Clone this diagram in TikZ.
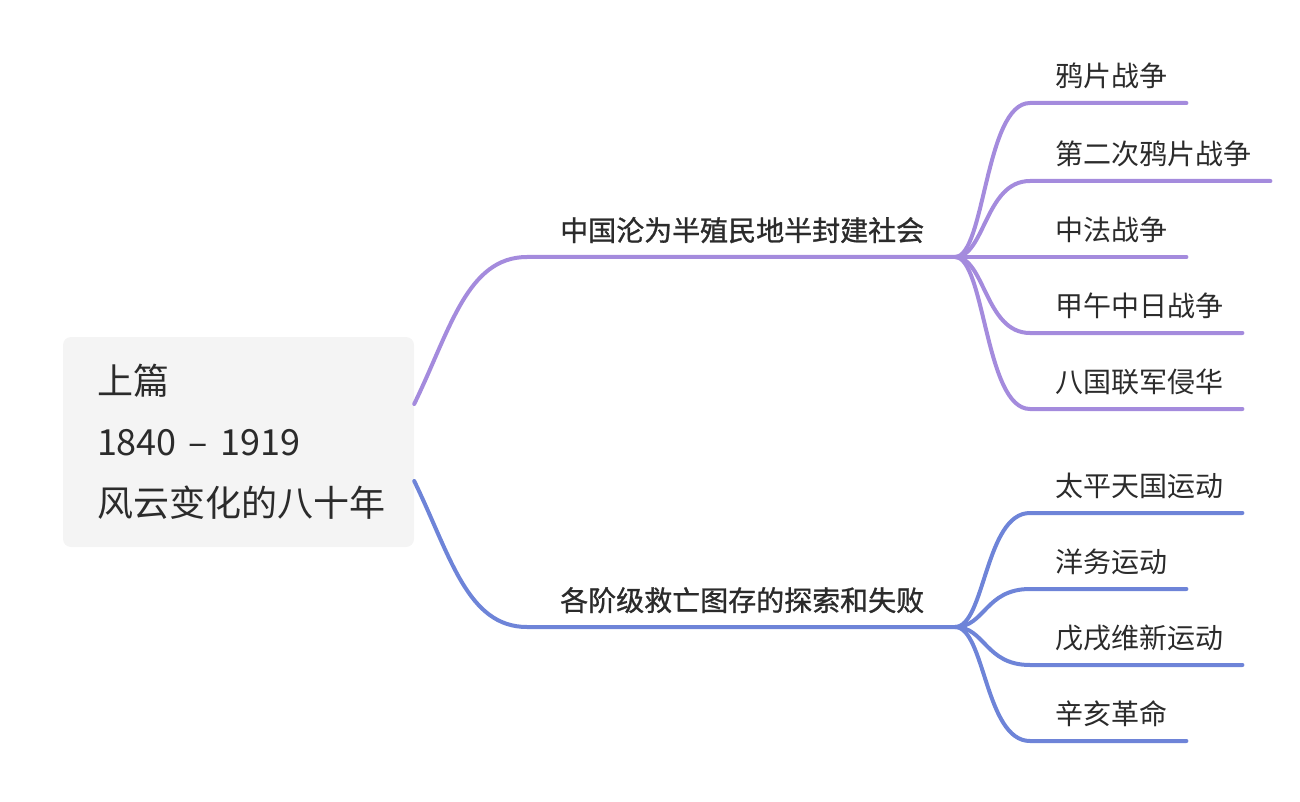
\documentclass[tikz,border=0pt]{standalone}
\usepackage{fontspec}
\setmainfont{Noto Sans CJK SC}
\newfontfamily\branchfont[FakeBold=1]{Noto Sans CJK SC}
\usetikzlibrary{positioning}
\definecolor{wars}{HTML}{A48BDD}
\definecolor{moves}{HTML}{6E84D8}
\definecolor{ink}{HTML}{2B2B2B}
\definecolor{rootfill}{HTML}{F4F4F4}

\begin{document}
\begin{tikzpicture}[x=1pt,y=-1pt,
  rootbox/.style={fill=rootfill,rounded corners=8pt,minimum width=351pt,minimum height=210pt,
    inner xsep=34pt,text width=283pt,align=left,text=ink,font=\fontsize{36}{61}\selectfont},
  topic/.style={anchor=south west,inner sep=0pt,text depth=16pt,text=ink,
    font=\branchfont\fontsize{28}{34}\selectfont},
  leaf/.style={anchor=south west,inner sep=0pt,text depth=16pt,text=ink,
    font=\fontsize{28}{34}\selectfont},
  twig/.style={line width=4pt,line cap=round}]
  \useasboundingbox (0,0) rectangle (1300,802);

  % Root
  \node[rootbox] (root) at (238.5,442) {上篇\\1840 – 1919\\风云变化的八十年};

  % Main topics
  \node[topic] (b1) at (560,257) {中国沦为半殖民地半封建社会};
  \node[topic] (b2) at (560,627) {各阶级救亡图存的探索和失败};
  \coordinate (h1) at (955,257);
  \coordinate (h2) at (955,627);
  \draw[twig,wars] ([yshift=38pt]root.east) .. controls +(36,-74) and +(-60,0) .. ([xshift=-33pt]b1.south west) -- (h1);
  \draw[twig,moves] ([yshift=-39pt]root.east) .. controls +(36,74) and +(-60,0) .. ([xshift=-33pt]b2.south west) -- (h2);

  % Wars
  \node[leaf] (w1) at (1055,103) {鸦片战争};
  \node[leaf] (w2) at (1055,181) {第二次鸦片战争};
  \node[leaf] (w3) at (1055,257) {中法战争};
  \node[leaf] (w4) at (1055,333) {甲午中日战争};
  \node[leaf] (w5) at (1055,409) {八国联军侵华};
  \draw[twig,wars] (h1) .. controls +(30,0) and +(-45,0) .. ([xshift=-25pt]w1.south west) -- ([xshift=19pt]w1.south east);
  \draw[twig,wars] (h1) .. controls +(30,0) and +(-45,0) .. ([xshift=-25pt]w2.south west) -- ([xshift=19pt]w2.south east);
  \draw[twig,wars] (h1) -- ([xshift=19pt]w3.south east);
  \draw[twig,wars] (h1) .. controls +(30,0) and +(-45,0) .. ([xshift=-25pt]w4.south west) -- ([xshift=19pt]w4.south east);
  \draw[twig,wars] (h1) .. controls +(30,0) and +(-45,0) .. ([xshift=-25pt]w5.south west) -- ([xshift=19pt]w5.south east);

  % Movements
  \node[leaf] (m1) at (1055,513) {太平天国运动};
  \node[leaf] (m2) at (1055,589) {洋务运动};
  \node[leaf] (m3) at (1055,665) {戊戌维新运动};
  \node[leaf] (m4) at (1055,741) {辛亥革命};
  \draw[twig,moves] (h2) .. controls +(30,0) and +(-45,0) .. ([xshift=-25pt]m1.south west) -- ([xshift=19pt]m1.south east);
  \draw[twig,moves] (h2) .. controls +(30,0) and +(-45,0) .. ([xshift=-25pt]m2.south west) -- ([xshift=19pt]m2.south east);
  \draw[twig,moves] (h2) .. controls +(30,0) and +(-45,0) .. ([xshift=-25pt]m3.south west) -- ([xshift=19pt]m3.south east);
  \draw[twig,moves] (h2) .. controls +(30,0) and +(-45,0) .. ([xshift=-25pt]m4.south west) -- ([xshift=19pt]m4.south east);
\end{tikzpicture}
\end{document}
